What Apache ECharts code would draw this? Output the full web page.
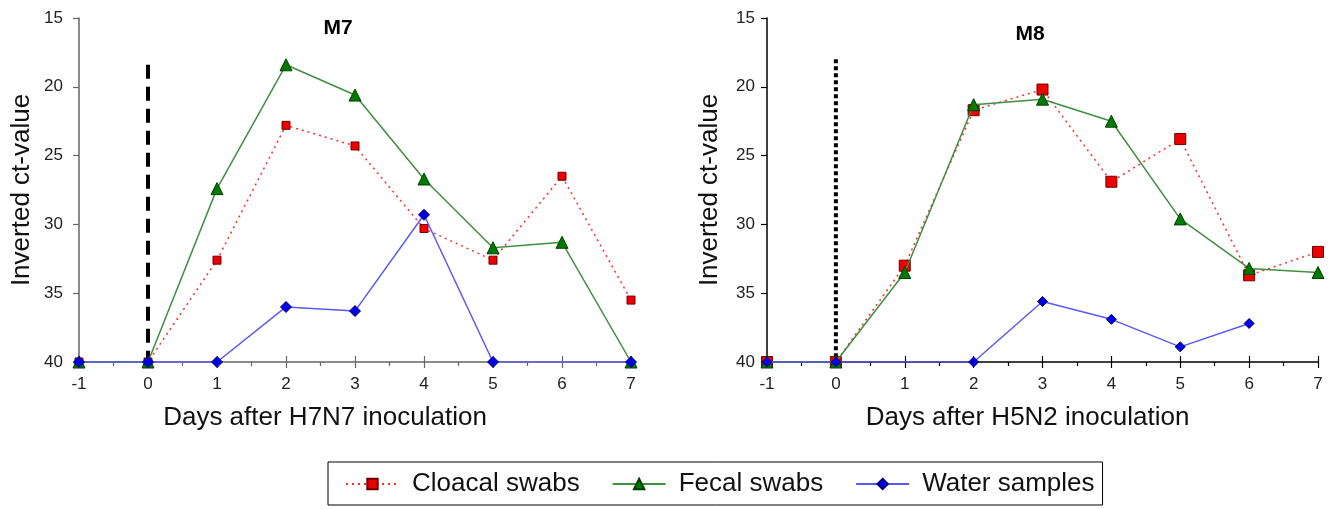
<!DOCTYPE html>
<html>
<head>
    <meta charset="UTF-8">
    <script src="https://cdn.jsdelivr.net/npm/echarts@6/dist/echarts.min.js"></script>
    <style>
        body { margin: 0; background: #fff; }
        #main { width: 1333px; height: 509px; }
    </style>
</head>
<body>
<div id="main"></div>
<script type="text/javascript">
    // days after inoculation
    var days = [-1, 0, 1, 2, 3, 4, 5, 6, 7];

    // M7 (H7N7)
    var m7Cloacal = [40, 40, 32.6, 22.8, 24.3, 30.3, 32.6, 26.5, 35.5];
    var m7Fecal = [40, 40, 27.4, 18.4, 20.6, 26.7, 31.7, 31.3, 40];
    var m7Water = [40, 40, 40, 36.0, 36.3, 29.3, 40, null, 40];

    // M8 (H5N2)
    var m8Cloacal = [40, 40, 33.0, 21.7, 20.2, 26.9, 23.8, 33.7, 32.0];
    var m8Fecal = [40, 40, 33.5, 21.3, 20.9, 22.5, 29.6, 33.2, 33.5];
    var m8Water = [40, 40, null, 40, 35.6, 36.9, 38.9, 37.2, null];

    // inoculation marker: day 0, from top value down to 40
    var inocDay = 0;
    var m7InocTop = 18.4;
    var m8InocTop = 18.0;

    var yTicks = [15, 20, 25, 30, 35, 40];
    var seriesNames = ['Cloacal swabs', 'Fecal swabs', 'Water samples'];

    function pairs(vals) {
        var out = [];
        for (var i = 0; i < days.length; i++) {
            out.push([days[i], vals[i]]);
        }
        return out;
    }

    var font = 'Liberation Sans, Arial, sans-serif';

    function xAxisFor(grid, color, name, padRight) {
        return [{
            gridIndex: grid,
            type: 'value',
            min: -1, max: 7, interval: 1,
            name: name,
            nameLocation: 'middle',
            nameGap: 43,
            nameTextStyle: {fontFamily: font, fontSize: 26, color: '#111', padding: [0, padRight, 0, 0]},
            axisLine: {show: true, onZero: false, lineStyle: {color: color, width: 1.5}},
            axisTick: {show: true, length: 6, lineStyle: {color: color, width: 1.2}},
            minorTick: {show: true, splitNumber: 2, length: 4, lineStyle: {color: color, width: 1.2}},
            splitLine: {show: false},
            axisLabel: {fontFamily: font, fontSize: 17, color: '#222', margin: 14}
        }, {
            // upper half of the crossing ticks
            gridIndex: grid,
            type: 'value',
            position: 'top',
            offset: -344,
            min: -1, max: 7, interval: 1,
            axisLine: {show: false},
            axisTick: {show: true, length: 6, lineStyle: {color: color, width: 1.2}},
            axisLabel: {show: false},
            splitLine: {show: false}
        }];
    }

    function yAxisFor(grid, color, margin) {
        return {
            gridIndex: grid,
            type: 'value',
            inverse: true,
            min: yTicks[0], max: yTicks[yTicks.length - 1], interval: 5,
            name: 'Inverted ct-value',
            nameLocation: 'middle',
            nameGap: 44,
            nameTextStyle: {fontFamily: font, fontSize: 26, color: '#111'},
            axisLine: {show: true, onZero: false, lineStyle: {color: color, width: 1.5}},
            axisTick: {show: true, length: 6, lineStyle: {color: color, width: 1.2}},
            splitLine: {show: false},
            axisLabel: {fontFamily: font, fontSize: 17, color: '#222', margin: margin}
        };
    }

    function dataSeries(xi, yi, c, f, w, sq, tri, dia) {
        return [{
            name: seriesNames[0], type: 'line', xAxisIndex: xi, yAxisIndex: yi,
            data: pairs(c), symbol: 'rect', symbolSize: sq,
            lineStyle: {color: '#ff2a2a', width: 1.5, type: [2, 4]},
            itemStyle: {color: '#ee0000', borderColor: '#700000', borderWidth: 1},
            z: 3
        }, {
            name: seriesNames[1], type: 'line', xAxisIndex: xi, yAxisIndex: yi,
            data: pairs(f), symbol: 'triangle', symbolSize: tri,
            lineStyle: {color: '#3f8f3f', width: 1.5},
            itemStyle: {color: '#007a00', borderColor: '#003f00', borderWidth: 1},
            z: 4
        }, {
            name: seriesNames[2], type: 'line', xAxisIndex: xi, yAxisIndex: yi,
            data: pairs(w), symbol: 'diamond', symbolSize: dia, connectNulls: true,
            lineStyle: {color: '#5a5af0', width: 1.5},
            itemStyle: {color: '#0000e0', borderColor: '#000080', borderWidth: 1},
            z: 5
        }];
    }

    function inocSeries(xi, yi, top, dash, width) {
        return {
            name: 'inoculation', type: 'line', xAxisIndex: xi, yAxisIndex: yi,
            data: [[inocDay, top], [inocDay, 40]], symbol: 'none', silent: true,
            lineStyle: {color: '#000', width: width, type: dash},
            z: 2
        };
    }

    var myChart = echarts.init(document.getElementById('main'));
    var option = {
        backgroundColor: '#fff',
        animation: false,
        title: [
            {text: 'M7', left: 333, top: 13, textAlign: 'center',
                textStyle: {fontFamily: font, fontSize: 21, fontWeight: 'bold', color: '#000'}},
            {text: 'M8', left: 1025, top: 19, textAlign: 'center',
                textStyle: {fontFamily: font, fontSize: 21, fontWeight: 'bold', color: '#000'}}
        ],
        grid: [
            {left: 79, top: 18, width: 552, height: 344},
            {left: 767, top: 18, width: 551, height: 344}
        ],
        xAxis: xAxisFor(0, '#666', 'Days after H7N7 inoculation', 60)
            .concat(xAxisFor(1, '#000', 'Days after H5N2 inoculation', 30)),
        yAxis: [yAxisFor(0, '#666', 16), yAxisFor(1, '#000', 12)],
        legend: {
            data: seriesNames,
            left: 328, top: 462,
            padding: [9, 8, 8, 17],
            itemGap: 32,
            itemWidth: 53,
            itemHeight: 13,
            borderColor: '#000',
            borderWidth: 1,
            textStyle: {fontFamily: font, fontSize: 26, color: '#111', padding: [0, 0, 0, 8]}
        },
        series: [].concat(
            dataSeries(0, 0, m7Cloacal, m7Fecal, m7Water, 8, 12, 11),
            [inocSeries(0, 0, m7InocTop, [14, 8], 4)],
            dataSeries(2, 1, m8Cloacal, m8Fecal, m8Water, 11, 12, 10),
            [inocSeries(2, 1, m8InocTop, [4, 3], 4)]
        )
    };
    myChart.setOption(option);
</script>
</body>
</html>
